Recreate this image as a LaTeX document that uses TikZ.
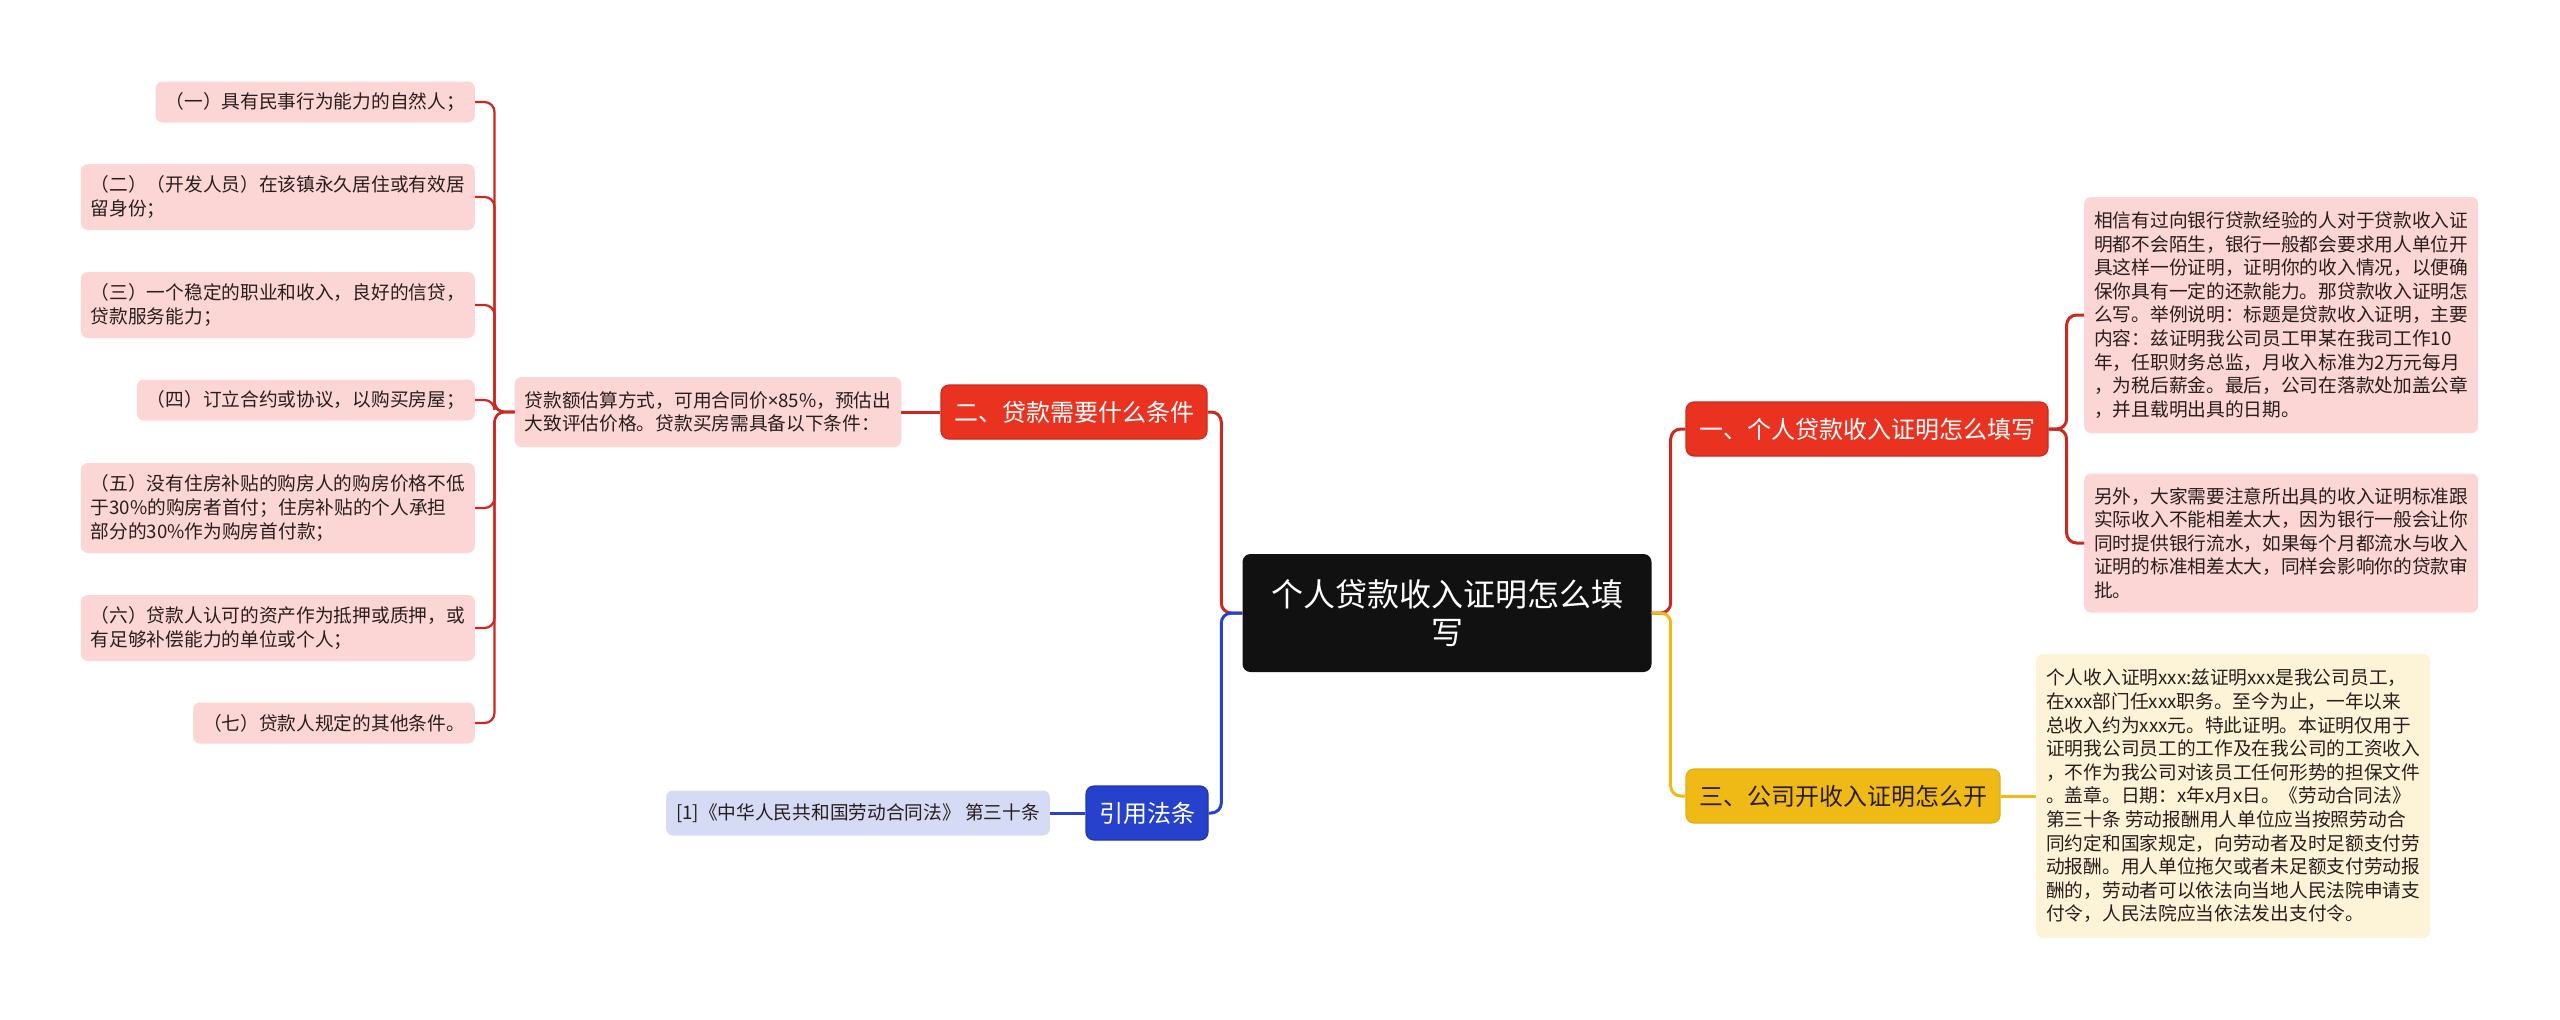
\documentclass[tikz,border=0pt]{standalone}
\usepackage{fontspec}
\setmainfont{Noto Sans CJK SC}
\newfontfamily\latinfont{Noto Sans}
\usepackage{tikz}
\usetikzlibrary{positioning, calc}
\definecolor{rootblack}{RGB}{17,17,17}
\definecolor{brred}{RGB}{234,50,32}
\definecolor{brredline}{RGB}{205,40,30}
\definecolor{leafpink}{RGB}{251,214,212}
\definecolor{brblue}{RGB}{38,66,205}
\definecolor{brblueline}{RGB}{30,52,180}
\definecolor{leafblue}{RGB}{213,219,245}
\definecolor{bryellow}{RGB}{240,186,22}
\definecolor{bryellowline}{RGB}{226,172,20}
\definecolor{leafyellow}{RGB}{253,243,214}
\definecolor{inkdark}{RGB}{40,30,30}
\tikzset{
  rootnode/.style={rectangle, fill=rootblack, text=white, rounded corners=8,
    minimum width=409, minimum height=118, align=center,
    font=\fontsize{32}{38}\selectfont},
  branch/.style={rectangle, rounded corners=8, inner xsep=13,
    minimum height=54, line width=1.2, font=\fontsize{24}{29}\selectfont},
  redbranch/.style={branch, fill=brred, draw=brredline, text=white},
  bluebranch/.style={branch, fill=brblue, draw=brblueline, text=white},
  yellowbranch/.style={branch, fill=bryellow, draw=bryellowline, text=inkdark},
  leaf/.style={rectangle, rounded corners=7, inner xsep=10, inner ysep=6,
    align=left, text=inkdark, font=\fontsize{18.7}{23.6}\selectfont},
  pinkleaf/.style={leaf, fill=leafpink},
  blueleaf/.style={leaf, fill=leafblue},
  yellowleaf/.style={leaf, fill=leafyellow},
  redlink/.style={line width=3, color=brredline, rounded corners=10},
  bluelink/.style={line width=3, color=brblue, rounded corners=10},
  yellowlink/.style={line width=3, color=bryellow, rounded corners=10},
  leaflink/.style={line width=2.2, color=brredline, rounded corners=10}
}
\begin{document}
\begin{tikzpicture}[x=1pt, y=-1pt]
  \fill[white] (0,0) rectangle (2560,1020);
  \useasboundingbox (0,0) rectangle (2560,1020);
  % centre
  \node[rootnode] (root) at (1447,613) {个人贷款收入证明怎么填\\写};
  % branches
  \node[redbranch] (b1) at (1867,429) {一、个人贷款收入证明怎么填写};
  \node[yellowbranch] (b3) at (1843,796) {三、公司开收入证明怎么开};
  \node[redbranch] (b2) at (1074,412) {二、贷款需要什么条件};
  \node[bluebranch] (bcite) at (1147,813) {引用法条};
  % left side
  \node[pinkleaf, minimum height=70] (est) at (708,412)
    {贷款额估算方式，可用合同价{\latinfont ×}85\%，预估出\\大致评估价格。贷款买房需具备以下条件：};
  \node[blueleaf, minimum height=45] (cite) at (858,813) {[1]《中华人民共和国劳动合同法》 第三十条};
  \node[pinkleaf, minimum height=41, anchor=east] (c1) at (475,102) {（一）具有民事行为能力的自然人；};
  \node[pinkleaf, minimum height=66, anchor=east] (c2) at (475,197)
    {（二）（开发人员）在该镇永久居住或有效居\\留身份；};
  \node[pinkleaf, minimum height=66, anchor=east] (c3) at (475,305)
    {（三）一个稳定的职业和收入，良好的信贷，\\贷款服务能力；};
  \node[pinkleaf, minimum height=41, anchor=east] (c4) at (475,400) {（四）订立合约或协议，以购买房屋；};
  \node[pinkleaf, minimum height=90, anchor=east] (c5) at (475,508)
    {（五）没有住房补贴的购房人的购房价格不低\\于30\%的购房者首付；住房补贴的个人承担\\部分的30\%作为购房首付款；};
  \node[pinkleaf, minimum height=66, anchor=east] (c6) at (475,628)
    {（六）贷款人认可的资产作为抵押或质押，或\\有足够补偿能力的单位或个人；};
  \node[pinkleaf, minimum height=41, anchor=east] (c7) at (475,723) {（七）贷款人规定的其他条件。};
  % right side
  \node[pinkleaf, minimum height=236, anchor=west] (r1) at (2084,315)
    {相信有过向银行贷款经验的人对于贷款收入证\\明都不会陌生，银行一般都会要求用人单位开\\具这样一份证明，证明你的收入情况，以便确\\保你具有一定的还款能力。那贷款收入证明怎\\么写。举例说明：标题是贷款收入证明，主要\\内容：兹证明我公司员工甲某在我司工作10\\年，任职财务总监，月收入标准为2万元每月\\，为税后薪金。最后，公司在落款处加盖公章\\，并且载明出具的日期。};
  \node[pinkleaf, minimum height=139, anchor=west] (r2) at (2084,543)
    {另外，大家需要注意所出具的收入证明标准跟\\实际收入不能相差太大，因为银行一般会让你\\同时提供银行流水，如果每个月都流水与收入\\证明的标准相差太大，同样会影响你的贷款审\\批。};
  \node[yellowleaf, minimum height=284, anchor=west] (r3) at (2036,796)
    {个人收入证明xxx:兹证明xxx是我公司员工，\\在xxx部门任xxx职务。至今为止，一年以来\\总收入约为xxx元。特此证明。本证明仅用于\\证明我公司员工的工作及在我公司的工资收入\\，不作为我公司对该员工任何形势的担保文件\\。盖章。日期：x年x月x日。《劳动合同法》\\第三十条 劳动报酬用人单位应当按照劳动合\\同约定和国家规定，向劳动者及时足额支付劳\\动报酬。用人单位拖欠或者未足额支付劳动报\\酬的，劳动者可以依法向当地人民法院申请支\\付令，人民法院应当依法发出支付令。};
  % connectors
  \draw[redlink] (root.west) -- ++(-21,0) |- (b2.east);
  \draw[bluelink] (root.west) -- ++(-21,0) |- (bcite.east);
  \draw[redlink] (root.east) -- ++(19,0) |- (b1.west);
  \draw[yellowlink] (root.east) -- ++(19,0) |- (b3.west);
  \draw[redlink] (b2.west) -- (est.east);
  \draw[bluelink] (bcite.west) -- (cite.east);
  \foreach \i in {1,...,7}
    \draw[leaflink] (est.west) -- ++(-20,0) |- (c\i.east);
  \draw[redlink] (b1.east) -- ++(18,0) |- (r1.west);
  \draw[redlink] (b1.east) -- ++(18,0) |- (r2.west);
  \draw[yellowlink] (b3.east) -- (r3.west);
\end{tikzpicture}
\end{document}
